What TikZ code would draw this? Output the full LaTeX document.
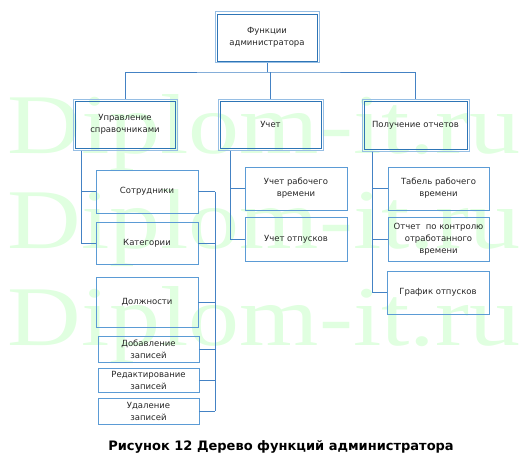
\documentclass[tikz,border=0pt]{standalone}
\usepackage{fontspec}
\setmainfont{DejaVu Sans}
\newfontfamily\wmfont{Liberation Serif}
\usetikzlibrary{calc}
\definecolor{boxblue}{RGB}{91,155,213}
\definecolor{linkblue}{RGB}{68,130,196}
\definecolor{outerblue}{RGB}{150,190,228}
\definecolor{innerblue}{RGB}{46,117,182}
\definecolor{wmgreen}{RGB}{224,255,224}
\tikzset{%
	mainbox/.style   = {draw=outerblue, line width=1pt, rectangle, inner sep=0pt, align=center, text=black!85, font=\fontsize{8.5}{12}\selectfont,
	                    path picture={\draw[innerblue,line width=0.8pt] ([shift={(2pt,-2pt)}]path picture bounding box.north west) rectangle ([shift={(-2pt,2pt)}]path picture bounding box.south east);}},
	subbox/.style    = {draw=boxblue, line width=0.9pt, rectangle, inner sep=0pt, align=center, text=black!85, font=\fontsize{8.5}{12}\selectfont},
	link/.style      = {draw=linkblue, line width=1pt},
	watermark/.style = {text=wmgreen, anchor=base, inner sep=0pt, font=\wmfont\fontsize{85}{85}\selectfont},
}

\begin{document}
\begin{tikzpicture}[x=1pt,y=-1pt]
		\useasboundingbox (0,0) rectangle (527,460);
		
		% watermark
		\node[watermark] (wm1) at (264,153) {\scalebox{1.2}[1]{Diplom-it.ru}};
		\node[watermark] (wm2) at (264,248) {\scalebox{1.2}[1]{Diplom-it.ru}};
		\node[watermark] (wm3) at (264,345) {\scalebox{1.2}[1]{Diplom-it.ru}};
		
		% root and level 2
		\node[mainbox,minimum width=104pt,minimum height=51pt] (top) at (267,37.5) {Функции\\администратора};
		\node[mainbox,minimum width=104pt,minimum height=51pt] (upr) at (125,124.5) {Управление\\справочниками};
		\node[mainbox,minimum width=105pt,minimum height=51pt] (uchet) at (270.5,124.5) {Учет};
		\node[mainbox,minimum width=107pt,minimum height=52pt] (poluch) at (415.5,125) {Получение отчетов};
		
		% reference books
		\node[subbox,minimum width=102pt,minimum height=43pt] (sotr) at (147,191.5) {Сотрудники};
		\node[subbox,minimum width=102pt,minimum height=42pt] (kat) at (147,243) {Категории};
		\node[subbox,minimum width=102pt,minimum height=50pt] (dolzh) at (147,302) {Должности};
		\node[subbox,minimum width=101pt,minimum height=26pt] (dob) at (148.5,349) {Добавление\\записей};
		\node[subbox,minimum width=101pt,minimum height=24pt] (red) at (148.5,380) {Редактирование\\записей};
		\node[subbox,minimum width=101pt,minimum height=26pt] (udal) at (148.5,411) {Удаление\\записей};
		
		% accounting
		\node[subbox,minimum width=102pt,minimum height=43pt] (urv) at (296,188.5) {Учет рабочего\\времени};
		\node[subbox,minimum width=102pt,minimum height=44pt] (uotp) at (296,239) {Учет отпусков};
		
		% reports
		\node[subbox,minimum width=101pt,minimum height=43pt] (tab) at (438.5,188.5) {Табель рабочего\\времени};
		\node[subbox,minimum width=101pt,minimum height=44pt] (otch) at (438.5,239) {Отчет~~по контролю\\отработанного\\времени};
		\node[subbox,minimum width=102pt,minimum height=43pt] (graf) at (438,292.5) {График отпусков};
		
		% connectors
		\coordinate (bus) at (267,72);
		\coordinate (rbus) at (215,0);
		\draw[link] (top.south) -- (bus);
		\draw[link] (upr.north) |- (bus) -| (poluch.north);
		\draw[link] (bus -| uchet.north) -- (uchet.north);
		
		\foreach \n in {sotr,kat} \draw[link] ($(upr.south west)+(9,0)$) |- (\n.west);
		\foreach \n in {sotr,kat,dolzh,dob,red,udal} \draw[link] (\n.east) -- (\n.east -| rbus);
		\draw[link] (sotr.east -| rbus) -- (udal.east -| rbus);
		\foreach \n in {urv,uotp} \draw[link] ($(uchet.south west)+(13,0)$) |- (\n.west);
		\foreach \n in {tab,otch,graf} \draw[link] ($(poluch.south west)+(11,0)$) |- (\n.west);
		
		% caption
		\node[font=\fontsize{13}{15}\selectfont\bfseries] (caption) at (281,447) {Рисунок 12 Дерево функций администратора};
\end{tikzpicture}
\end{document}
